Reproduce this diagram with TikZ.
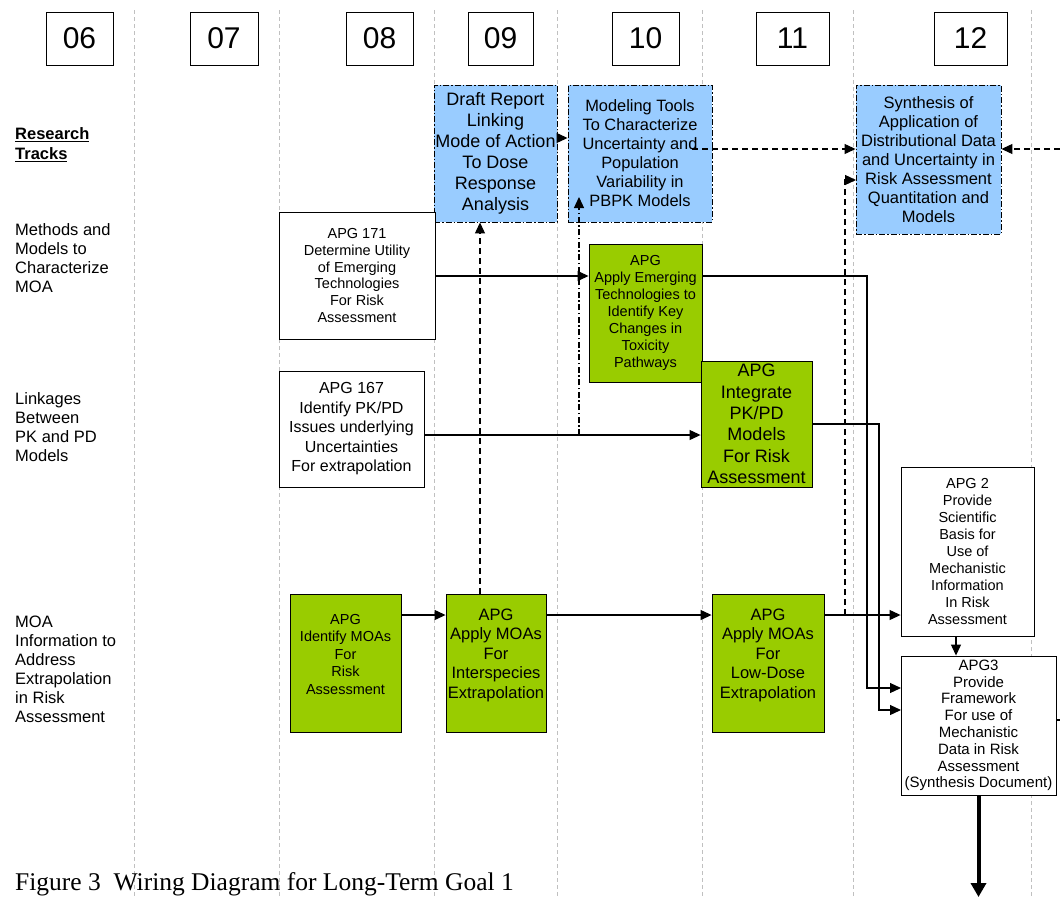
\documentclass[tikz,border=0pt]{standalone}
\usepackage{fontspec}
\setmainfont{Liberation Serif}
\setsansfont{Liberation Sans}
\usetikzlibrary{arrows.meta}
\definecolor{apgblue}{HTML}{99CCFF}
\definecolor{apggreen}{HTML}{99CC00}
\definecolor{gridgray}{HTML}{C0C0C0}

\begin{document}
\begin{tikzpicture}[x=1pt,y=-1pt,
  every node/.style={font=\sffamily, inner sep=0pt},
  fs/.style 2 args={font=\sffamily\fontsize{#1}{#2}\selectfont},
  yrsep/.style={gridgray, line width=0.9pt, dash pattern=on 4pt off 3pt},
  yearbox/.style={draw, line width=0.9pt, minimum height=53pt, fs={30}{34}},
  plainbox/.style={draw, fill=white, line width=0.9pt, align=center},
  apgbox/.style={plainbox, fill=apggreen},
  outbox/.style={draw, fill=apgblue, line width=0.9pt, align=center,
    dash pattern=on 6pt off 2pt on 1.5pt off 2pt},
  track/.style={anchor=north west, align=left, fs={16.5}{19}},
  flow/.style={line width=1.2pt, -{Triangle[length=11pt,width=10pt]}},
  dflow/.style={flow, dash pattern=on 6pt off 4pt},
  ddflow/.style={flow, dash pattern=on 6pt off 2.5pt on 1.5pt off 2.5pt},
  wire/.style={line width=1.2pt}]
\path[use as bounding box, fill=white] (0,0) rectangle (1060,897);
%
\foreach \gx in {134,279,434,557,702,853,1031}
  \draw[yrsep] (\gx,10) -- (\gx,897);
%
\foreach \yr/\cx/\bw in {06/79.5/67,07/224/68,08/379.5/67,09/500.5/65,10/645.5/67,11/792.5/73,12/970.5/73}
  \node[yearbox, minimum width=\bw pt] (year\yr) at (\cx,38.5) {\yr};
%
\node[track, font=\sffamily\bfseries\fontsize{16.5}{20}\selectfont] (trkhead) at (15,127) {\underline{Research}\\\underline{Tracks}};
\node[track] (trkmoa) at (15,223) {Methods and\\Models to\\Characterize\\MOA};
\node[track] (trklink) at (15,392) {Linkages\\Between\\PK and PD\\Models};
\node[track] (trkextra) at (15,616) {MOA\\Information to\\Address\\Extrapolation\\in Risk\\Assessment};
%
\node[anchor=base west, font=\rmfamily\fontsize{25.5}{30}\selectfont] (caption) at (15,890) {Figure 3\ \ Wiring Diagram for Long-Term Goal 1};
%
\node[outbox, minimum width=123pt, minimum height=137pt, fs={18}{21}] (draftrep) at (495.5,153.5) {Draft Report\\Linking\\Mode of Action\\To Dose\\Response\\Analysis};
\node[outbox, minimum width=144pt, minimum height=137pt, fs={16.4}{19}] (modtools) at (640,153.5) {Modeling Tools\\To Characterize\\Uncertainty and\\Population\\Variability in\\PBPK Models};
\node[outbox, minimum width=145pt, minimum height=149pt, fs={16.5}{19}] (synth) at (928.5,159.5) {Synthesis of\\Application of\\Distributional Data\\and Uncertainty in\\Risk Assessment\\Quantitation and\\Models};
%
\node[plainbox, minimum width=156pt, minimum height=127pt, fs={14.5}{16.7}] (apg171) at (357,275.5) {APG 171\\Determine Utility\\of Emerging\\Technologies\\For Risk\\Assessment};
\node[apgbox, minimum width=113pt, minimum height=138pt, fs={14.5}{17}] (emerg) at (645.5,313) {APG\\Apply Emerging\\Technologies to\\Identify Key\\Changes in\\Toxicity\\Pathways};
\node[plainbox, minimum width=145pt, minimum height=116pt, fs={16}{19.5}] (apg167) at (351.5,429) {APG 167\\Identify PK/PD\\Issues underlying\\Uncertainties\\For extrapolation};
\node[apgbox, minimum width=111pt, minimum height=126pt, fs={18}{21.3}] (integ) at (756.5,424) {APG\\Integrate\\PK/PD\\Models\\For Risk\\Assessment};
%
\node[apgbox, minimum width=111pt, minimum height=138pt, fs={14.5}{17.5}] (identmoa) at (345.5,663) {APG\\Identify MOAs\\For\\Risk\\Assessment\\\mbox{}};
\node[apgbox, minimum width=100pt, minimum height=138pt, fs={16.5}{19.5}] (interspec) at (496,663) {APG\\Apply MOAs\\For\\Interspecies\\Extrapolation\\\mbox{}};
\node[apgbox, minimum width=112pt, minimum height=138pt, fs={16.5}{19.5}] (lowdose) at (768,663) {APG\\Apply MOAs\\For\\Low-Dose\\Extrapolation\\\mbox{}};
%
\node[plainbox, minimum width=133pt, minimum height=169pt, fs={14.5}{17}] (apg2) at (967.5,551.5) {APG 2\\Provide\\Scientific\\Basis for\\Use of\\Mechanistic\\Information\\In Risk\\Assessment};
\node[plainbox, minimum width=155pt, minimum height=139pt, fs={15}{16.8}] (apg3) at (978.5,725.5) {APG3\\Provide\\Framework\\For use of\\Mechanistic\\Data in Risk\\Assessment\\(Synthesis Document)};
%
\coordinate (rowT) at (0,138);
\coordinate (rowS) at (0,149);
\coordinate (rowA) at (0,276);
\coordinate (rowB) at (0,435);
\coordinate (rowC) at (0,615);
\coordinate (inA) at (901,688);
\coordinate (inB) at (901,710);
\coordinate (tapB) at (579,435);
\coordinate (modin) at (579,197);
\coordinate (modout) at (692,149);
\coordinate (edgeS) at (1060,149);
\coordinate (tapC) at (845,615);
\coordinate (synin) at (856,180);
\coordinate (edgeR) at (1060,720);
\coordinate (exit) at (978.5,897);
%
\draw[flow] (apg171.east |- rowA) -- (emerg.west |- rowA);
\draw[flow] (emerg.east |- rowA) -| ([xshift=-34pt]inA) -- (inA);
\draw[flow] (apg167.east |- rowB) -- (integ.west |- rowB);
\draw[flow] (integ.east) -| ([xshift=-22pt]inB) -- (inB);
%
\draw[flow] (identmoa.east |- rowC) -- (interspec.west |- rowC);
\draw[flow] (interspec.east |- rowC) -- (lowdose.west |- rowC);
\draw[flow] (lowdose.east |- rowC) -- (apg2.west |- rowC);
\draw[flow] ([xshift=-11.5pt]apg2.south) -- ([xshift=-11.5pt]apg2.south |- apg3.north);
\draw[line width=4pt, -{Triangle[length=14pt,width=15pt]}] (apg3.south) -- (exit);
\draw[wire] (apg3.east |- edgeR) -- (edgeR);
%
\draw[flow] (draftrep.east |- rowT) -- (modtools.west |- rowT);
\draw[dflow] ([xshift=-16pt]interspec.north) -- ([xshift=-16pt]interspec.north |- draftrep.south);
\draw[ddflow] (tapB) -- (modin);
\draw[dflow] (modout) -- (synth.west |- rowS);
\draw[dflow] (edgeS) -- (synth.east |- rowS);
\draw[dflow] (tapC) |- (synin);
\end{tikzpicture}
\end{document}
